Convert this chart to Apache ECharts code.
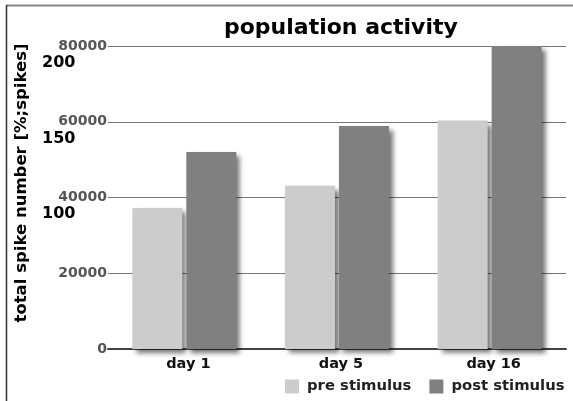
<!DOCTYPE html>
<html>
<head>
<meta charset="utf-8">
<script src="https://cdn.jsdelivr.net/npm/echarts@6/dist/echarts.min.js"></script>
<style>html,body{margin:0;padding:0;background:#fff}#c{width:573px;height:401px}</style>
</head>
<body>
<div id="c"></div>
<script>
var categories = ['day 1', 'day 5', 'day 16'];
var preStimulus = [37200, 43100, 60300];
var postStimulus = [52000, 58900, 80000];
var seriesNames = ['pre stimulus', 'post stimulus'];
var titleText = 'population activity';
var yAxisName = 'total spike number [%;spikes]';
var secondaryTicks = [100, 150, 200];

var FONT = 'DejaVu Sans';
var chart = echarts.init(document.getElementById('c'), null, {renderer: 'canvas'});
var shadow = {shadowBlur: 5, shadowOffsetX: 4, shadowOffsetY: 4, shadowColor: 'rgba(0,0,0,0.55)'};
chart.setOption({
  animation: false,
  backgroundColor: '#fff',
  title: {
    text: titleText, left: 219, top: 12,
    textStyle: {fontFamily: FONT, fontSize: 22, fontWeight: 'bold', color: '#000'}
  },
  legend: {
    left: 285, top: 379, padding: 0, itemWidth: 14, itemHeight: 14, itemGap: 18,
    icon: 'rect',
    itemStyle: {shadowBlur: 0, shadowOffsetX: 0, shadowOffsetY: 0},
    textStyle: {fontFamily: FONT, fontSize: 14.8, fontWeight: 'bold', color: '#222', padding: [0, 0, 0, 3]},
    data: seriesNames
  },
  grid: [
    {left: 108, right: 7, top: 46, bottom: 52},
    {left: 110, right: 9, top: 62.8, bottom: 35.4}
  ],
  xAxis: [
    {
      type: 'category', data: categories, gridIndex: 0,
      axisLine: {lineStyle: {color: '#444', width: 2}},
      axisTick: {show: false},
      axisLabel: {margin: 8, fontFamily: FONT, fontSize: 14.5, fontWeight: 'bold', color: '#111', padding: [0, 0, 0, 8]}
    },
    {type: 'category', data: categories, gridIndex: 1, show: false}
  ],
  yAxis: [
    {
      type: 'value', min: 0, max: 80000, interval: 20000, gridIndex: 0,
      axisLine: {show: false}, axisTick: {show: false},
      splitLine: {lineStyle: {color: '#777', width: 1}},
      axisLabel: {margin: 1, fontFamily: FONT, fontSize: 14, fontWeight: 'bold', color: '#555',
        formatter: function (v) { return String(v); }}
    },
    {
      type: 'value', min: 0, max: 200, interval: 50, gridIndex: 1,
      axisLine: {show: false}, axisTick: {show: false}, splitLine: {show: false},
      axisLabel: {
        margin: 68, align: 'left', fontFamily: FONT, fontSize: 16, fontWeight: 'bold', color: '#000',
        formatter: function (v) { return secondaryTicks.indexOf(v) >= 0 ? String(v) : ''; }
      }
    }
  ],
  graphic: [
    {type: 'line', shape: {x1: 6, y1: 5.5, x2: 573, y2: 5.5}, style: {stroke: '#888', lineWidth: 2}, z: 100},
    {type: 'line', shape: {x1: 6.5, y1: 5, x2: 6.5, y2: 401}, style: {stroke: '#333', lineWidth: 1.5}, z: 100},
    {
      type: 'text', x: 21.5, y: 183, rotation: Math.PI / 2,
      style: {text: yAxisName, font: 'bold 16.5px "DejaVu Sans"', fill: '#000', align: 'center', verticalAlign: 'middle'}
    }
  ],
  series: [
    {
      name: seriesNames[0], type: 'bar', data: preStimulus, xAxisIndex: 0, yAxisIndex: 0,
      barWidth: 50, barGap: '8%',
      itemStyle: Object.assign({color: '#cccccc'}, shadow)
    },
    {
      name: seriesNames[1], type: 'bar', data: postStimulus, xAxisIndex: 0, yAxisIndex: 0,
      barWidth: 50, barGap: '8%',
      itemStyle: Object.assign({color: '#808080'}, shadow)
    }
  ]
});
</script>
</body>
</html>
